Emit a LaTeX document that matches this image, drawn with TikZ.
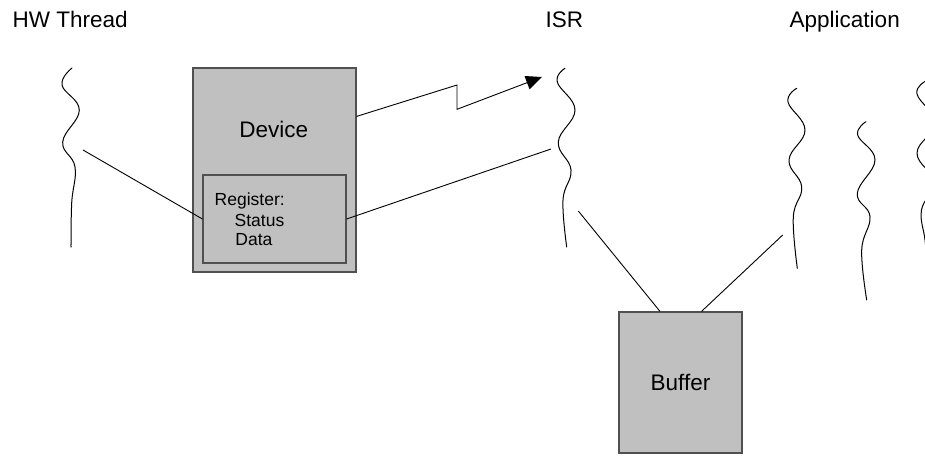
\documentclass[tikz,border=0pt]{standalone}
\usepackage{fontspec}
\setmainfont{Liberation Sans}
\usetikzlibrary{arrows.meta}
\definecolor{boxfill}{HTML}{C0C0C0}
\definecolor{boxline}{HTML}{505050}
\tikzset{
  box/.style={draw=boxline, fill=boxfill, line width=1.2pt, inner sep=0pt},
  bigtxt/.style={font=\fontsize{22.5}{26}\selectfont, inner sep=0pt},
  smalltxt/.style={font=\fontsize{17.5}{20}\selectfont, inner sep=0pt},
  conn/.style={draw=black, line width=0.9pt},
  thread/.style={draw=black, line width=1pt, line cap=round},
}
\begin{document}
\begin{tikzpicture}[x=1pt,y=-1pt]
\useasboundingbox (0,0) rectangle (925,455);
\clip (0,0) rectangle (925,455);
% titles
\node[bigtxt, anchor=base west] (t1) at (12.5,27.5) {HW Thread};
\node[bigtxt, anchor=base west] (t2) at (545.5,27.5) {ISR};
\node[bigtxt, anchor=base west] (t3) at (789.5,27.5) {Application};
% threads
\draw[thread] plot[smooth, tension=0.7] coordinates {(72,68) (62,85) (79.3,110) (62.7,142) (75,167) (71.7,203) (71,247)};
\draw[thread] plot[smooth, tension=0.7] coordinates {(565,68.3) (557.3,82) (575,110) (558.3,142) (571,170) (563,200) (566.7,247)};
\draw[thread] plot[smooth, tension=0.7] coordinates {(796.7,88.3) (788,102) (805,130) (789,160) (801.7,187) (793.3,217) (797.3,268.3)};
\draw[thread] plot[smooth, tension=0.7] coordinates {(866,121.7) (857.7,135) (875,160) (857.3,193.3) (870,216.7) (861.7,250) (866.7,300)};
\draw[thread] plot[smooth, tension=0.7] coordinates {(926,81) (917,94) (935,123) (917,153) (934,182) (921.5,210) (925,240) (928,270)};
% boxes
\node[box, minimum width=163pt, minimum height=204pt] (dev) at (274.5,170) {};
\node[bigtxt, anchor=base] (devlbl) at (273.7,137) {Device};
\node[box, minimum width=143pt, minimum height=88pt] (reg) at (274.5,219) {};
\node[smalltxt, anchor=base west] (reglbl) at (214.5,205.5) {Register:};
\node[smalltxt, anchor=base west] (stat) at (234.5,226) {Status};
\node[smalltxt, anchor=base west] (data) at (235.2,245.5) {Data};
\node[box, minimum width=123pt, minimum height=141pt] (buf) at (680.5,382.5) {};
\node[bigtxt] (buflbl) at (buf.center) {Buffer};
% connector ends
\coordinate (hwc) at (83,150);
\coordinate (isrc) at (551,149);
\coordinate (isrb) at (578.3,211);
\coordinate (appc) at (782.7,235);
\coordinate (tip) at (542,77);
\coordinate (z1) at (457,85);
\coordinate (z2) at (457,109.3);
% connectors
\draw[conn] (hwc) -- (reg.west);
\draw[conn] (reg.east) -- (isrc);
\draw[conn] (isrb) -- ([xshift=-20.5pt]buf.north);
\draw[conn] (appc) -- ([xshift=21pt]buf.north);
\draw[conn, -{Triangle[length=16pt,width=14pt]}] ([yshift=-49pt]dev.north east) -- (z1) -- (z2) -- (tip);
\end{tikzpicture}
\end{document}
